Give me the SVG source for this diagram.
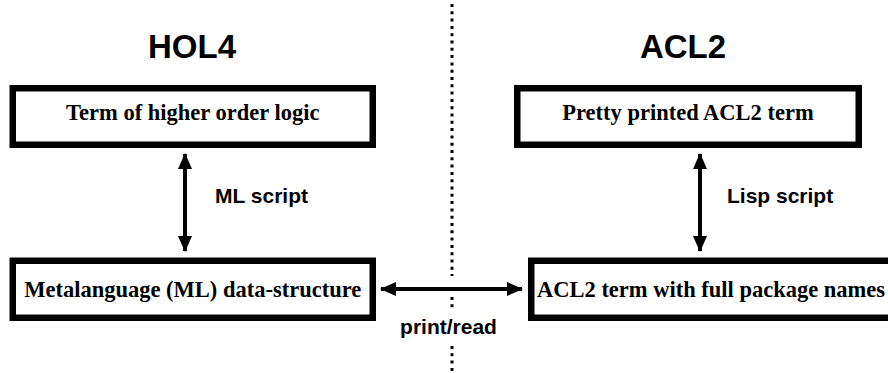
<svg xmlns="http://www.w3.org/2000/svg" width="888" height="373" viewBox="0 0 888 373">
  <style>
    .box { fill: #fff; stroke: #000; stroke-width: 6.5; }
    .boxtext { font-family: "Liberation Serif", "Times New Roman", serif; font-weight: bold; font-size: 22.5px; fill: #000; }
    .title { font-family: "Liberation Sans", Arial, sans-serif; font-weight: bold; font-size: 33px; fill: #000; text-anchor: middle; }
    .label { font-family: "Liberation Sans", Arial, sans-serif; font-weight: bold; font-size: 21px; fill: #000; }
    .conn { stroke: #000; stroke-width: 4; fill: none; }
    .dots { stroke: #000; stroke-width: 3; stroke-dasharray: 3 4.3; fill: none; }
  </style>
  <defs>
    <marker id="head" markerUnits="userSpaceOnUse" markerWidth="16" markerHeight="14" refX="15" refY="7" orient="auto-start-reverse">
      <path d="M0,0 L16,7 L0,14 Z" fill="#000"/>
    </marker>
  </defs>
  <rect width="888" height="373" fill="#fff"/>

  <!-- separator between the two systems -->
  <g id="separator">
    <line class="dots" x1="452" y1="4" x2="452" y2="276"/>
    <line class="dots" x1="452" y1="297" x2="452" y2="309"/>
    <line class="dots" x1="452" y1="346" x2="452" y2="373"/>
  </g>

  <text class="title" x="192" y="58">HOL4</text>
  <text class="title" x="683" y="58">ACL2</text>

  <g id="connectors">
    <line class="conn" x1="185" y1="154" x2="185" y2="251" marker-start="url(#head)" marker-end="url(#head)"/>
    <line class="conn" x1="700" y1="154" x2="700" y2="251" marker-start="url(#head)" marker-end="url(#head)"/>
    <line class="conn" x1="381" y1="289" x2="522" y2="289" marker-start="url(#head)" marker-end="url(#head)"/>
    <text class="label" x="215" y="203">ML script</text>
    <text class="label" x="727" y="203">Lisp script</text>
    <text class="label" x="448.5" y="334" text-anchor="middle">print/read</text>
  </g>

  <g id="hol-term">
    <rect class="box" x="12.75" y="88.25" width="360" height="56.5"/>
    <text class="boxtext" x="192.75" y="119.5" text-anchor="middle">Term of higher order logic</text>
  </g>

  <g id="ml-structure">
    <rect class="box" x="12.75" y="260.75" width="360" height="57"/>
    <text class="boxtext" x="192.75" y="297" text-anchor="middle">Metalanguage (ML) data-structure</text>
  </g>

  <g id="acl2-pretty">
    <rect class="box" x="517.25" y="88.25" width="341.5" height="56.5"/>
    <text class="boxtext" x="688" y="119.5" text-anchor="middle">Pretty printed ACL2 term</text>
  </g>

  <g id="acl2-full">
    <rect class="box" x="531.25" y="260.75" width="400" height="57"/>
    <text class="boxtext" x="537" y="297">ACL2 term with full package names</text>
  </g>
</svg>
